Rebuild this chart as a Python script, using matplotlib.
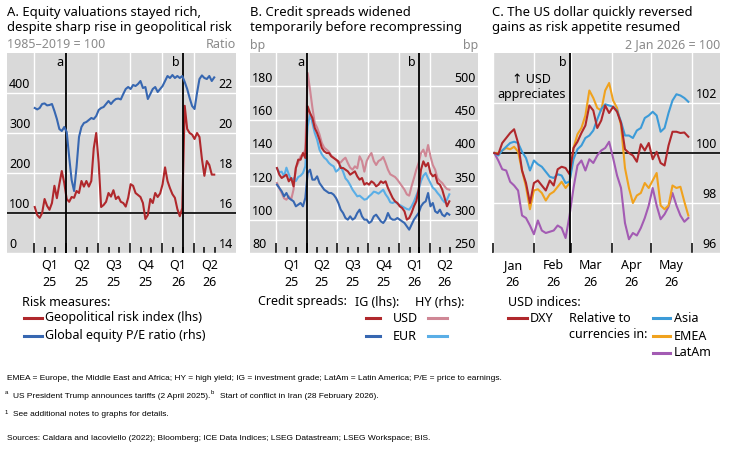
import numpy as np
import pandas as pd
import matplotlib
matplotlib.use("Agg")
import matplotlib.pyplot as plt
import matplotlib.transforms as mtrans
from matplotlib.lines import Line2D

W, H = 730, 453
plt.rcParams['font.family'] = ['Noto Sans', 'DejaVu Sans']

# ---- data: panel A (weekly, from 3 Jan 2025) ----
weeks = pd.date_range('2025-01-03', periods=74, freq='7D')
geo_risk = [115, 95, 88, 100, 135, 118, 108, 125, 168, 137, 172, 205, 175, 135, 128, 140,
            138, 155, 150, 180, 166, 180, 166, 180, 262, 300, 225, 115, 120, 128, 150, 141,
            157, 135, 141, 128, 125, 116, 138, 172, 168, 150, 145, 140, 125, 85, 95, 135,
            125, 150, 140, 149, 172, 214, 180, 162, 147, 138, 110, 92, 112, 368, 310, 300,
            296, 285, 300, 290, 235, 193, 230, 220, 196, 196]
pe_ratio = [21.25, 21.18, 21.25, 21.45, 21.48, 21.38, 21.4, 21.45, 21.1, 20.7, 20.2, 20.1,
            20.3, 20.05, 18.8, 17.65, 17.1, 18.3, 19.8, 20.3, 20.5, 20.55, 20.65, 20.75,
            20.7, 20.85, 21.15, 21.25, 21.3, 21.45, 21.6, 21.45, 21.6, 21.7, 21.72, 21.68,
            21.95, 22.2, 22.3, 22.2, 22.4, 22.35, 22.45, 22.6, 22.25, 22.3, 21.7, 21.95,
            22.2, 22.3, 22.05, 22.2, 22.35, 22.6, 22.85, 22.75, 22.9, 22.75, 22.85, 22.75,
            22.85, 22.55, 22.2, 21.75, 21.35, 21.2, 22.0, 22.7, 22.88, 22.75, 22.7, 22.85,
            22.6, 22.78]

# ---- data: panel B (weekly, bp) ----
usd_ig = [131, 127, 125, 126, 127, 123, 125, 120, 131, 136, 136, 140, 137, 168, 164, 161,
          155, 152, 148, 143, 141, 140, 140, 138, 137, 136, 135, 131, 131, 130, 129, 127,
          128, 129, 126, 124, 125, 121, 122, 121, 123, 122, 120, 121, 123, 122, 123, 119,
          116, 113, 111, 110, 108, 107, 105, 100, 101, 104, 108, 111, 118, 130, 135, 132,
          134, 128, 126, 127, 122, 121, 118, 113, 108, 111]
eur_ig = [121, 119, 117, 114, 116, 113, 112, 111, 108, 109, 110, 108, 113, 128, 130, 124,
          124, 126, 122, 120, 118, 117, 116, 116, 115, 113, 110, 106, 104, 101, 100, 102,
          100, 101, 104, 106, 102, 100, 100, 98, 99, 102, 103, 101, 99, 98, 100, 104,
          101, 100, 100, 101, 100, 99, 98, 96, 94, 97, 100, 102, 104, 108, 110, 111,
          116, 108, 110, 105, 104, 106, 103, 102, 104, 103]
usd_hy = [355, 347, 340, 332, 330, 335, 330, 345, 378, 385, 395, 398, 405, 520, 495, 468,
          445, 438, 428, 415, 408, 405, 402, 396, 393, 390, 385, 386, 390, 393, 385, 378,
          375, 380, 377, 395, 388, 372, 388, 395, 400, 388, 382, 388, 390, 394, 385, 375,
          368, 366, 364, 360, 355, 350, 345, 338, 336, 350, 362, 375, 385, 400, 405, 395,
          412, 395, 382, 375, 362, 358, 355, 350, 346, 345]
eur_hy = [377, 371, 372, 365, 378, 368, 360, 362, 358, 364, 366, 370, 380, 440, 458, 445,
          430, 420, 405, 398, 393, 390, 385, 382, 380, 372, 375, 380, 372, 362, 358, 352,
          345, 340, 335, 336, 333, 330, 331, 335, 338, 342, 341, 339, 342, 345, 338, 333,
          326, 325, 327, 324, 322, 320, 318, 316, 315, 320, 327, 336, 345, 358, 366, 370,
          362, 355, 348, 345, 340, 336, 330, 326, 330, 338]

# ---- data: panel C (every 3 days from 2 Jan 2026, 2 Jan 2026 = 100) ----
days_c = pd.date_range('2026-01-02', periods=50, freq='3D')
dxy = [100.0, 99.95, 100.4, 100.6, 100.8, 100.95, 100.4, 99.3, 98.8, 98.0, 98.8, 98.9,
       98.7, 98.5, 98.9, 98.7, 99.35, 99.45, 99.4, 99.15, 100.2, 100.45, 100.8, 101.1,
       101.9, 101.7, 101.0, 101.3, 101.9, 101.6, 101.85, 101.65, 101.2, 100.15, 100.0,
       99.9, 99.65, 100.35, 100.1, 100.4, 99.75, 100.05, 99.6, 99.5, 100.3, 100.85,
       100.85, 100.8, 100.82, 100.65]
asia = [100.0, 99.9, 100.1, 100.25, 100.4, 100.45, 100.4, 100.05, 99.8, 99.3, 99.7, 99.55,
        99.45, 99.25, 99.05, 99.0, 99.15, 99.1, 98.8, 98.85, 99.75, 100.15, 100.3, 100.6,
        100.7, 100.9, 101.35, 101.75, 101.95, 101.9, 101.85, 101.7, 101.25, 100.7, 100.7,
        100.6, 100.9, 101.0, 101.4, 101.5, 101.65, 101.5, 100.85, 101.0, 101.6, 102.1,
        102.35, 102.3, 102.2, 102.05]
emea = [100.0, 100.0, 100.1, 100.2, 100.15, 100.25, 100.05, 99.3, 98.65, 97.75, 98.5, 98.55,
        98.4, 98.1, 98.35, 98.45, 98.65, 98.85, 98.6, 98.8, 100.2, 100.75, 101.0, 101.5,
        102.5, 102.2, 101.8, 101.7, 102.5, 102.8, 102.1, 101.8, 101.1, 99.4, 98.6, 98.0,
        98.3, 98.4, 98.8, 98.6, 98.9, 99.2, 97.9, 97.75, 97.9, 98.7, 98.6, 98.65, 98.05,
        97.5]
latam = [100.0, 99.7, 99.35, 99.3, 98.85, 98.7, 98.5, 97.5, 97.4, 97.1, 96.75, 97.3, 96.9,
         96.8, 96.85, 96.9, 97.1, 97.0, 96.6, 97.5, 98.6, 99.5, 99.7, 99.3, 99.75, 99.6,
         99.9, 100.1, 100.2, 100.45, 99.8, 99.1, 98.6, 97.2, 96.55, 96.8, 96.7, 97.0, 97.4,
         97.9, 98.6, 97.9, 97.35, 97.55, 97.85, 98.4, 97.9, 97.5, 97.25, 97.4]

event_a = pd.Timestamp('2025-04-02')
event_b = pd.Timestamp('2026-02-28')

RED = '#b0282c'
BLUE = '#3767b1'
PINK = '#cf8795'
LBLUE = '#5aaee6'
ORANGE = '#f0a21e'
PURPLE = '#a35bb3'
ASIA = '#3c9bd8'
GREY_TXT = '#8a8a8a'
BG = '#d9d9d9'
FS = 9
LW = 1.5

fig = plt.figure(figsize=(W / 100, H / 100), dpi=100)


def px_axes(x0, y0, x1, y1):
    return fig.add_axes([x0 / W, 1 - y1 / H, (x1 - x0) / W, (y1 - y0) / H])


def ftext(x, y, s, **kw):
    kw.setdefault('fontsize', FS)
    kw.setdefault('va', 'center')
    return fig.text(x / W, 1 - y / H, s, **kw)


def fline(x0, x1, y, color):
    fig.add_artist(Line2D([x0 / W, x1 / W], [1 - y / H, 1 - y / H], color=color, lw=2.2,
                          transform=fig.transFigure))


def style(ax, ylim, yticks, xlim):
    ax.set_facecolor(BG)
    for s in ax.spines.values():
        s.set_visible(False)
    ax.set_xlim(xlim)
    ax.set_ylim(ylim)
    ax.set_yticks(yticks)
    ax.tick_params(axis='y', length=0, labelleft=False, labelright=False)
    ax.tick_params(axis='x', which='both', direction='in', color='black', width=1.1,
                   labelbottom=False)
    ax.tick_params(axis='x', which='major', length=7)
    ax.tick_params(axis='x', which='minor', length=4.5)
    ax.grid(True, which='major', color='white', lw=1.0)
    ax.set_axisbelow(True)


def ylabels(ax, vals, side, dx, dy=8):
    tr = mtrans.blended_transform_factory(ax.transAxes, ax.transData)
    x, ha = (0, 'left') if side == 'left' else (1, 'right')
    tr = mtrans.offset_copy(tr, fig=fig, x=dx, y=dy, units='dots')
    for v in vals:
        ax.text(x, v, f'{v:g}', transform=tr, ha=ha, va='center', fontsize=FS, zorder=5)


def xlabels(ax, dates, labels):
    tr = mtrans.blended_transform_factory(ax.transData, ax.transAxes)
    for d, s in zip(dates, labels):
        ax.text(d, -0.03, s, transform=tr, ha='center', va='top', fontsize=FS,
                linespacing=1.35)


def event(ax, d, s):
    ax.axvline(d, color='black', lw=1.3, zorder=4)
    tr = mtrans.offset_copy(mtrans.blended_transform_factory(ax.transData, ax.transAxes),
                            fig=fig, x=-3, y=0, units='dots')
    ax.text(d, 0.95, s, transform=tr, ha='right', va='center', fontsize=FS)


quarters = pd.date_range('2025-01-01', '2026-06-30', freq='QS')
months = pd.date_range('2025-01-01', '2026-06-30', freq='MS')
q_mid = quarters + pd.Timedelta(days=45)
q_lab = ['Q1\n25', 'Q2\n25', 'Q3\n25', 'Q4\n25', 'Q1\n26', 'Q2\n26']

# ---- Panel A ----
axA = px_axes(7, 53, 236, 253)
style(axA, (0, 500), [0, 100, 200, 300, 400], (pd.Timestamp('2024-10-16'), pd.Timestamp('2026-07-30')))
axA.set_xticks(quarters)
axA.set_xticks(months, minor=True)
axA.axhline(100, color='black', lw=1.2, zorder=3)
axA.plot(weeks, geo_risk, color=RED, lw=LW, zorder=3)
axA2 = axA.twinx()
axA2.set_ylim(14, 24)
axA2.axis('off')
axA2.plot(weeks, pe_ratio, color=BLUE, lw=LW)
event(axA, event_a, 'a')
event(axA, event_b, 'b')
ylabels(axA, [0, 100, 200, 300, 400], 'left', 2)
ylabels(axA2, [14, 16, 18, 20, 22], 'right', -3)
xlabels(axA, q_mid, q_lab)

# ---- Panel B ----
axB = px_axes(250, 53, 478, 253)
style(axB, (80, 200), [80, 100, 120, 140, 160, 180], (pd.Timestamp('2024-10-15'), pd.Timestamp('2026-08-22')))
axB.set_xticks(quarters)
axB.set_xticks(months, minor=True)
axB2 = axB.twinx()
axB2.set_ylim(250, 550)
axB2.axis('off')
axB2.plot(weeks, usd_hy, color=PINK, lw=LW)
axB2.plot(weeks, eur_hy, color=LBLUE, lw=LW)
axB3 = axB.twinx()
axB3.set_ylim(80, 200)
axB3.axis('off')
axB3.plot(weeks, usd_ig, color=RED, lw=LW)
axB3.plot(weeks, eur_ig, color=BLUE, lw=LW)
event(axB3, event_a, 'a')
event(axB3, event_b, 'b')
ylabels(axB, [80, 100, 120, 140, 160, 180], 'left', 2)
ylabels(axB2, [250, 300, 350, 400, 450, 500], 'right', -2)
xlabels(axB, q_mid, q_lab)

# ---- Panel C ----
axC = px_axes(493, 53, 720, 253)
m_c = pd.date_range('2026-01-01', '2026-06-01', freq='MS')
style(axC, (96, 104), [96, 98, 100, 102], (pd.Timestamp('2026-01-01'), pd.Timestamp('2026-06-22')))
axC.set_xticks(m_c)
axC.tick_params(axis='x', which='major', length=7)
axC.axhline(100, color='black', lw=1.2, zorder=3)
axC.plot(days_c, latam, color=PURPLE, lw=LW, zorder=3)
axC.plot(days_c, emea, color=ORANGE, lw=LW, zorder=3)
axC.plot(days_c, asia, color=ASIA, lw=LW, zorder=3)
axC.plot(days_c, dxy, color=RED, lw=LW, zorder=3)
event(axC, event_b, 'b')
ylabels(axC, [96, 98, 100, 102], 'right', -3)
xlabels(axC, m_c[:-1] + pd.Timedelta(days=15), ['Jan\n26', 'Feb\n26', 'Mar\n26', 'Apr\n26', 'May\n26'])
axC.text(0.17, 0.83, '↑ USD\nappreciates', transform=axC.transAxes, ha='center', va='center',
         fontsize=FS, linespacing=1.25)

# ---- titles and unit labels ----
TFS = 9.4
ftext(7, 20, 'A. Equity valuations stayed rich,\ndespite sharp rise in geopolitical risk',
      ha='left', fontsize=TFS, linespacing=1.25)
ftext(250, 20, 'B. Credit spreads widened\ntemporarily before recompressing',
      ha='left', fontsize=TFS, linespacing=1.25)
ftext(492, 20, 'C. The US dollar quickly reversed\ngains as risk appetite resumed',
      ha='left', fontsize=TFS, linespacing=1.25)
ftext(7, 45, '1985–2019 = 100', ha='left', color=GREY_TXT)
ftext(236, 45, 'Ratio', ha='right', color=GREY_TXT)
ftext(250, 45, 'bp', ha='left', color=GREY_TXT)
ftext(478, 45, 'bp', ha='right', color=GREY_TXT)
ftext(720, 45, '2 Jan 2026 = 100', ha='right', color=GREY_TXT)

# ---- legends ----
ftext(22, 302, 'Risk measures:', ha='left')
fline(24, 42, 318, RED)
ftext(45, 318, 'Geopolitical risk index (lhs)', ha='left')
fline(24, 42, 336, BLUE)
ftext(45, 336, 'Global equity P/E ratio (rhs)', ha='left')

ftext(258, 302, 'Credit spreads:', ha='left')
ftext(355, 302, 'IG (lhs):', ha='left')
ftext(415, 302, 'HY (rhs):', ha='left')
fline(366, 380, 318, RED)
ftext(393, 318, 'USD', ha='left')
fline(428, 447, 318, PINK)
fline(366, 380, 336, BLUE)
ftext(393, 336, 'EUR', ha='left')
fline(428, 447, 336, LBLUE)

ftext(508, 302, 'USD indices:', ha='left')
fline(508, 527, 318, RED)
ftext(530, 318, 'DXY', ha='left')
ftext(569, 318, 'Relative to', ha='left')
ftext(569, 335, 'currencies in:', ha='left')
fline(653, 670, 318, ASIA)
ftext(674, 318, 'Asia', ha='left')
fline(653, 670, 336, ORANGE)
ftext(674, 336, 'EMEA', ha='left')
fline(653, 670, 353, PURPLE)
ftext(674, 353, 'LatAm', ha='left')

# ---- footnotes ----
NF = ['Liberation Sans', 'DejaVu Sans']
NFS = 6.0
ftext(7, 378, 'EMEA = Europe, the Middle East and Africa; HY = high yield; IG = investment grade; '
      'LatAm = Latin America; P/E = price to earnings.', ha='left', family=NF, fontsize=NFS)
ftext(5, 393, 'a', ha='left', family=NF, fontsize=4.3)
ftext(13, 396, 'US President Trump announces tariffs (2 April 2025).', ha='left', family=NF, fontsize=NFS)
ftext(211, 393, 'b', ha='left', family=NF, fontsize=4.3)
ftext(220, 396, 'Start of conflict in Iran (28 February 2026).', ha='left', family=NF, fontsize=NFS)
ftext(5, 412, '1', ha='left', family=NF, fontsize=4.3)
ftext(13, 415, 'See additional notes to graphs for details.', ha='left', family=NF, fontsize=NFS)
ftext(7, 439, 'Sources: Caldara and Iacoviello (2022); Bloomberg; ICE Data Indices; LSEG Datastream; '
      'LSEG Workspace; BIS.', ha='left', family=NF, fontsize=NFS)

fig.savefig('out.png', dpi=100)
